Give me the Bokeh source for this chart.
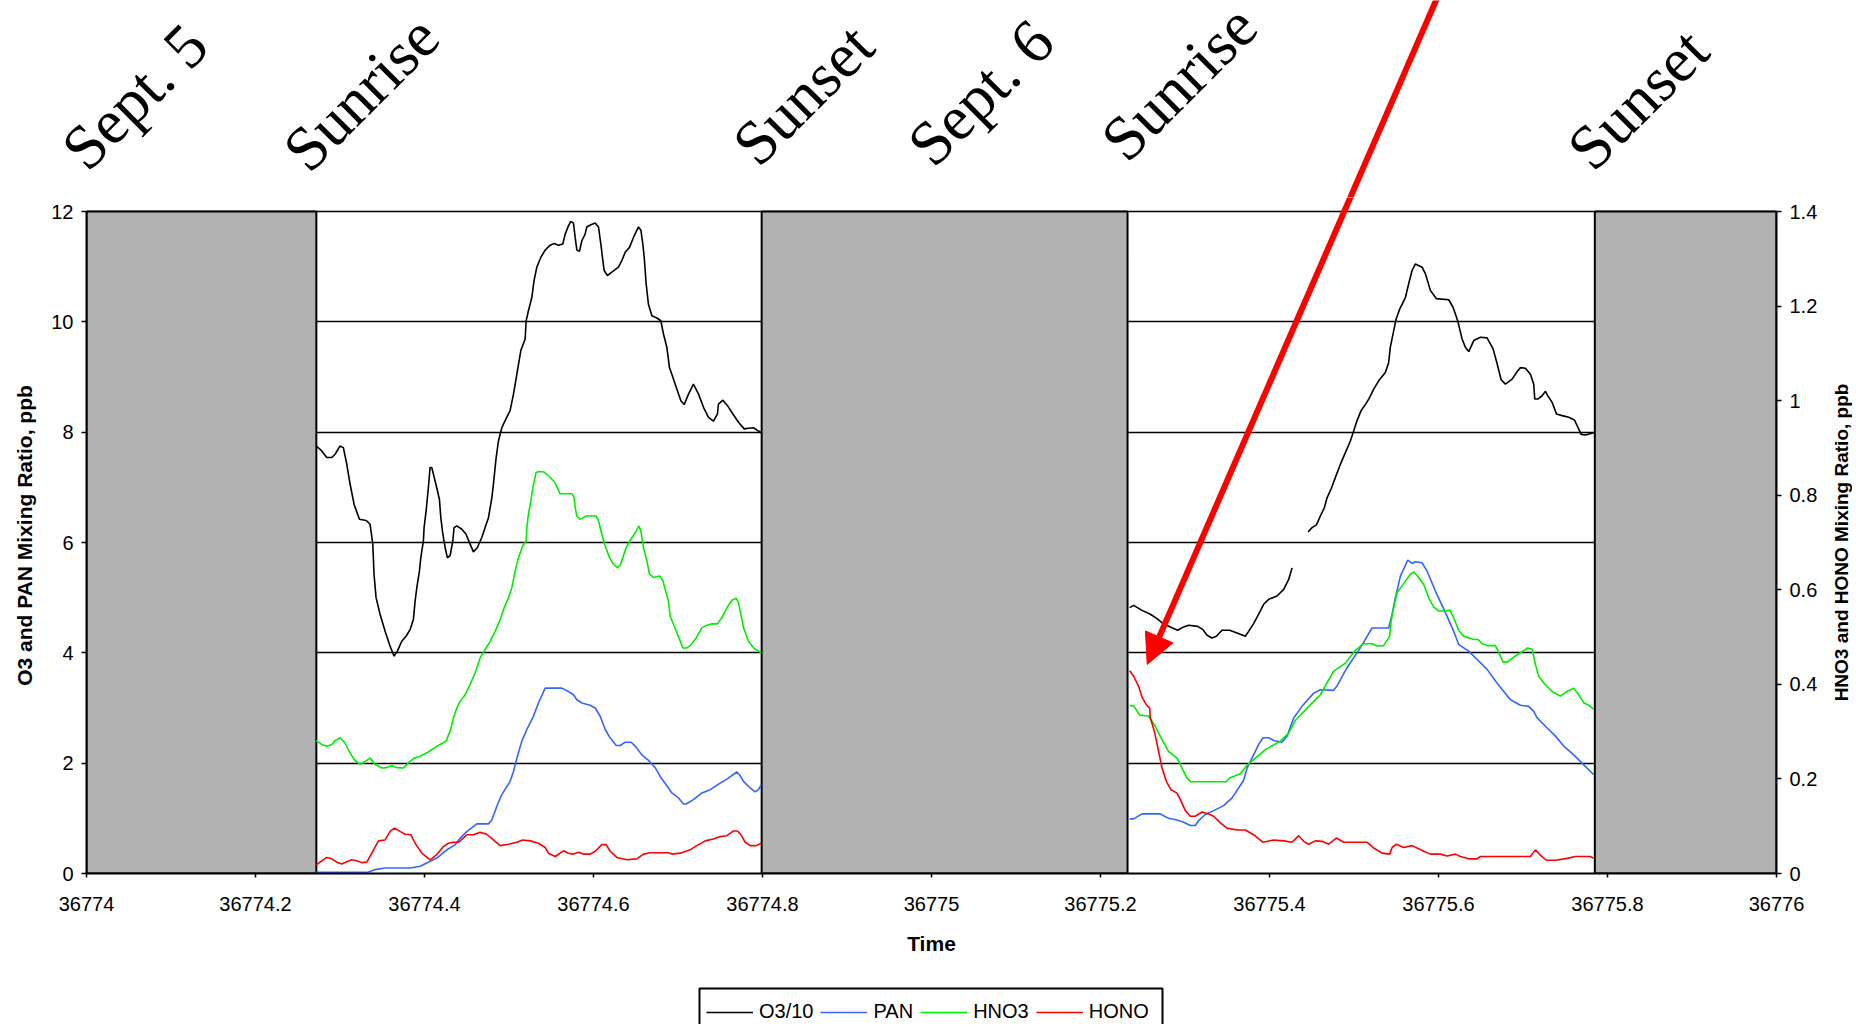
from bokeh.plotting import figure
from bokeh.layouts import column, row
from bokeh.models import (Range1d, LinearAxis, FixedTicker, Legend, LegendItem,
                          Label, Arrow, NormalHead)
from bokeh.embed import file_html
from bokeh.resources import INLINE

# ---------------- data ----------------
# O3/10 (left axis, ppb/10)
o3_sep5_time = [36774.2717, 36774.2784, 36774.2843, 36774.2903, 36774.2942, 36774.3001, 36774.3040, 36774.3080,
                36774.3119, 36774.3167, 36774.3230, 36774.3309, 36774.3356, 36774.3388, 36774.3403, 36774.3427,
                36774.3474, 36774.3534, 36774.3593, 36774.3640, 36774.3679, 36774.3731, 36774.3782, 36774.3829,
                36774.3869, 36774.3889, 36774.3909, 36774.3940, 36774.3956, 36774.3987, 36774.3995, 36774.4019,
                36774.4046, 36774.4066, 36774.4086, 36774.4125, 36774.4177, 36774.4193, 36774.4217, 36774.4244,
                36774.4271, 36774.4303, 36774.4335, 36774.4350, 36774.4382, 36774.4442, 36774.4492, 36774.4540,
                36774.4579, 36774.4626, 36774.4678, 36774.4717, 36774.4757, 36774.4797, 36774.4816, 36774.4848,
                36774.4875, 36774.4915, 36774.4954, 36774.5013, 36774.5053, 36774.5093, 36774.5140, 36774.5191,
                36774.5203, 36774.5230, 36774.5270, 36774.5297, 36774.5329, 36774.5377, 36774.5428, 36774.5487,
                36774.5534, 36774.5585, 36774.5637, 36774.5665, 36774.5703, 36774.5732, 36774.5763, 36774.5783,
                36774.5803, 36774.5834, 36774.5862, 36774.5901, 36774.5921, 36774.5969, 36774.6020, 36774.6059,
                36774.6087, 36774.6111, 36774.6126, 36774.6165, 36774.6217, 36774.6295, 36774.6335, 36774.6375,
                36774.6426, 36774.6473, 36774.6532, 36774.6561, 36774.6584, 36774.6600, 36774.6623, 36774.6650,
                36774.6691, 36774.6750, 36774.6797, 36774.6828, 36774.6868, 36774.6899, 36774.6927, 36774.6987,
                36774.7034, 36774.7073, 36774.7124, 36774.7183, 36774.7243, 36774.7302, 36774.7361, 36774.7420,
                36774.7467, 36774.7479, 36774.7531, 36774.7586, 36774.7650, 36774.7716, 36774.7783, 36774.7834,
                36774.7893, 36774.7953, 36774.7993]
o3_sep5 = [7.75, 7.66, 7.54, 7.54, 7.60, 7.75, 7.72, 7.42,
           7.06, 6.69, 6.42, 6.40, 6.33, 5.97, 5.42, 5.00,
           4.70, 4.39, 4.12, 3.94, 4.03, 4.21, 4.30, 4.42,
           4.61, 4.94, 5.18, 5.48, 5.72, 6.03, 6.27, 6.57,
           7.00, 7.36, 7.36, 7.12, 6.78, 6.45, 6.15, 5.91,
           5.72, 5.76, 6.03, 6.27, 6.30, 6.24, 6.15, 5.97,
           5.83, 5.91, 6.09, 6.27, 6.45, 6.81, 7.06, 7.54,
           7.84, 8.08, 8.21, 8.39, 8.69, 9.05, 9.48, 9.69,
           10.02, 10.20, 10.44, 10.75, 10.99, 11.17, 11.30, 11.39,
           11.42, 11.39, 11.41, 11.59, 11.74, 11.82, 11.79, 11.53,
           11.30, 11.28, 11.47, 11.59, 11.72, 11.76, 11.79, 11.72,
           11.41, 11.11, 10.93, 10.84, 10.90, 10.99, 11.11, 11.26,
           11.35, 11.53, 11.72, 11.66, 11.41, 11.17, 10.69, 10.32,
           10.11, 10.07, 10.02, 9.78, 9.54, 9.17, 9.05, 8.78,
           8.57, 8.50, 8.69, 8.87, 8.69, 8.45, 8.27, 8.20,
           8.33, 8.51, 8.58, 8.48, 8.33, 8.18, 8.06, 8.07,
           8.08, 8.02, 7.99]

o3_sep6a_time = [36775.2345, 36775.2392, 36775.2491, 36775.2590, 36775.2669, 36775.2740, 36775.2826, 36775.2913,
                 36775.2984, 36775.3043, 36775.3150, 36775.3213, 36775.3261, 36775.3320, 36775.3371, 36775.3438,
                 36775.3528, 36775.3616, 36775.3714, 36775.3753, 36775.3812, 36775.3872, 36775.3931, 36775.3990,
                 36775.4089, 36775.4168, 36775.4227, 36775.4267]
o3_sep6a = [4.82, 4.86, 4.77, 4.70, 4.62, 4.53, 4.47, 4.41,
            4.47, 4.50, 4.48, 4.42, 4.32, 4.27, 4.30, 4.41,
            4.41, 4.36, 4.30, 4.39, 4.53, 4.70, 4.88, 4.97,
            5.03, 5.15, 5.33, 5.54]

o3_sep6b_time = [36775.4456, 36775.4504, 36775.4555, 36775.4602, 36775.4649, 36775.4681, 36775.4729, 36775.4780,
                 36775.4839, 36775.4898, 36775.4957, 36775.4996, 36775.5036, 36775.5084, 36775.5135, 36775.5186,
                 36775.5233, 36775.5292, 36775.5371, 36775.5410, 36775.5430, 36775.5470, 36775.5502, 36775.5541,
                 36775.5608, 36775.5647, 36775.5687, 36775.5726, 36775.5806, 36775.5845, 36775.5904, 36775.5975,
                 36775.6121, 36775.6173, 36775.6227, 36775.6279, 36775.6318, 36775.6358, 36775.6417, 36775.6496,
                 36775.6575, 36775.6646, 36775.6694, 36775.6741, 36775.6792, 36775.6871, 36775.6922, 36775.6970,
                 36775.7029, 36775.7088, 36775.7127, 36775.7139, 36775.7175, 36775.7226, 36775.7266, 36775.7293,
                 36775.7345, 36775.7396, 36775.7463, 36775.7541, 36775.7609, 36775.7671, 36775.7688, 36775.7739,
                 36775.7837]
o3_sep6b = [6.19, 6.27, 6.32, 6.48, 6.63, 6.81, 6.97, 7.18,
            7.42, 7.63, 7.84, 8.02, 8.21, 8.39, 8.50, 8.63,
            8.78, 8.93, 9.08, 9.26, 9.54, 9.84, 10.07, 10.23,
            10.44, 10.69, 10.93, 11.05, 10.99, 10.87, 10.57, 10.42,
            10.40, 10.26, 10.02, 9.69, 9.54, 9.46, 9.66, 9.72,
            9.71, 9.51, 9.24, 8.95, 8.87, 8.96, 9.08, 9.17,
            9.16, 9.05, 8.87, 8.60, 8.60, 8.66, 8.74, 8.66,
            8.54, 8.33, 8.30, 8.27, 8.22, 8.02, 7.96, 7.95,
            7.99]

# PAN (left axis, ppb)
pan_sep5_time = [36774.2717, 36774.3317, 36774.3415, 36774.3534, 36774.3829, 36774.3948, 36774.4027, 36774.4146,
                 36774.4264, 36774.4362, 36774.4421, 36774.4501, 36774.4619, 36774.4757, 36774.4797, 36774.4856,
                 36774.4915, 36774.5013, 36774.5053, 36774.5093, 36774.5152, 36774.5211, 36774.5289, 36774.5348,
                 36774.5428, 36774.5625, 36774.5703, 36774.5763, 36774.5803, 36774.5862, 36774.5960, 36774.6020,
                 36774.6079, 36774.6138, 36774.6197, 36774.6268, 36774.6316, 36774.6375, 36774.6446, 36774.6493,
                 36774.6572, 36774.6651, 36774.6730, 36774.6789, 36774.6860, 36774.6927, 36774.7006, 36774.7065,
                 36774.7097, 36774.7183, 36774.7283, 36774.7381, 36774.7479, 36774.7579, 36774.7650, 36774.7697,
                 36774.7728, 36774.7775, 36774.7854, 36774.7913, 36774.7953, 36774.7985]
pan_sep5 = [0.02, 0.02, 0.07, 0.10, 0.10, 0.13, 0.19, 0.28,
            0.43, 0.52, 0.64, 0.76, 0.90, 0.90, 0.97, 1.22,
            1.43, 1.67, 1.85, 2.09, 2.40, 2.61, 2.85, 3.09,
            3.36, 3.36, 3.30, 3.24, 3.15, 3.09, 3.05, 3.00,
            2.85, 2.61, 2.46, 2.32, 2.32, 2.38, 2.38, 2.31,
            2.15, 2.05, 1.92, 1.76, 1.61, 1.46, 1.37, 1.26,
            1.26, 1.34, 1.46, 1.52, 1.62, 1.71, 1.79, 1.84,
            1.79, 1.67, 1.55, 1.48, 1.52, 1.61]

pan_sep6_time = [36775.2345, 36775.2392, 36775.2491, 36775.2708, 36775.2806, 36775.2906, 36775.2984, 36775.3063,
                 36775.3122, 36775.3161, 36775.3241, 36775.3339, 36775.3457, 36775.3557, 36775.3635, 36775.3694,
                 36775.3734, 36775.3812, 36775.3872, 36775.3924, 36775.3990, 36775.4049, 36775.4148, 36775.4208,
                 36775.4286, 36775.4385, 36775.4523, 36775.4602, 36775.4759, 36775.4799, 36775.4918, 36775.5075,
                 36775.5214, 36775.5411, 36775.5451, 36775.5490, 36775.5549, 36775.5636, 36775.5687, 36775.5726,
                 36775.5806, 36775.5865, 36775.5963, 36775.6082, 36775.6180, 36775.6239, 36775.6358, 36775.6457,
                 36775.6575, 36775.6694, 36775.6851, 36775.6970, 36775.7068, 36775.7127, 36775.7167, 36775.7265,
                 36775.7384, 36775.7482, 36775.7600, 36775.7719, 36775.7837]
pan_sep6 = [0.99, 0.99, 1.08, 1.08, 1.00, 0.97, 0.93, 0.87,
            0.87, 0.96, 1.07, 1.14, 1.23, 1.37, 1.55, 1.69,
            1.91, 2.15, 2.34, 2.46, 2.46, 2.41, 2.38, 2.49,
            2.82, 3.03, 3.27, 3.33, 3.32, 3.40, 3.73, 4.09,
            4.45, 4.45, 4.70, 5.00, 5.39, 5.68, 5.62, 5.65,
            5.63, 5.48, 5.12, 4.73, 4.39, 4.15, 4.03, 3.88,
            3.70, 3.45, 3.15, 3.05, 3.03, 2.94, 2.82, 2.67,
            2.49, 2.31, 2.15, 1.97, 1.79]

# HNO3 (right axis, ppb)
hno3_sep5_time = [36774.2717, 36774.2784, 36774.2843, 36774.2903, 36774.2942, 36774.3001, 36774.3060, 36774.3119,
                  36774.3178, 36774.3238, 36774.3297, 36774.3356, 36774.3415, 36774.3494, 36774.3554, 36774.3613,
                  36774.3672, 36774.3751, 36774.3809, 36774.3869, 36774.3948, 36774.4046, 36774.4146, 36774.4256,
                  36774.4303, 36774.4342, 36774.4382, 36774.4421, 36774.4481, 36774.4540, 36774.4599, 36774.4658,
                  36774.4717, 36774.4777, 36774.4836, 36774.4895, 36774.4942, 36774.4993, 36774.5033, 36774.5073,
                  36774.5112, 36774.5163, 36774.5203, 36774.5211, 36774.5230, 36774.5258, 36774.5289, 36774.5321,
                  36774.5360, 36774.5416, 36774.5479, 36774.5534, 36774.5566, 36774.5605, 36774.5744, 36774.5771,
                  36774.5783, 36774.5803, 36774.5842, 36774.5913, 36774.6031, 36774.6059, 36774.6099, 36774.6138,
                  36774.6189, 36774.6236, 36774.6284, 36774.6316, 36774.6347, 36774.6386, 36774.6454, 36774.6505,
                  36774.6537, 36774.6561, 36774.6591, 36774.6632, 36774.6662, 36774.6710, 36774.6781, 36774.6821,
                  36774.6848, 36774.6887, 36774.6907, 36774.6946, 36774.6994, 36774.7058, 36774.7105, 36774.7152,
                  36774.7215, 36774.7283, 36774.7342, 36774.7401, 36774.7467, 36774.7519, 36774.7579, 36774.7638,
                  36774.7689, 36774.7716, 36774.7744, 36774.7775, 36774.7834, 36774.7902, 36774.7981]
hno3_sep5 = [0.281, 0.273, 0.269, 0.273, 0.281, 0.287, 0.276, 0.255,
             0.239, 0.231, 0.237, 0.244, 0.231, 0.223, 0.224, 0.228,
             0.224, 0.223, 0.234, 0.243, 0.248, 0.257, 0.269, 0.280,
             0.301, 0.329, 0.350, 0.364, 0.378, 0.400, 0.424, 0.456,
             0.474, 0.491, 0.512, 0.537, 0.562, 0.583, 0.604, 0.640,
             0.668, 0.693, 0.703, 0.731, 0.760, 0.788, 0.823, 0.848,
             0.850, 0.849, 0.839, 0.829, 0.818, 0.803, 0.803, 0.795,
             0.774, 0.756, 0.749, 0.756, 0.756, 0.746, 0.717, 0.693,
             0.668, 0.654, 0.647, 0.652, 0.668, 0.689, 0.710, 0.724,
             0.735, 0.724, 0.689, 0.661, 0.633, 0.626, 0.629, 0.619,
             0.601, 0.576, 0.544, 0.527, 0.506, 0.477, 0.477, 0.483,
             0.498, 0.520, 0.525, 0.528, 0.528, 0.541, 0.562, 0.578,
             0.582, 0.573, 0.548, 0.520, 0.491, 0.476, 0.467]

hno3_sep6_time = [36775.2345, 36775.2392, 36775.2463, 36775.2569, 36775.2649, 36775.2728, 36775.2806, 36775.2906,
                  36775.2965, 36775.3024, 36775.3071, 36775.3489, 36775.3528, 36775.3655, 36775.3734, 36775.3812,
                  36775.3951, 36775.4128, 36775.4227, 36775.4306, 36775.4523, 36775.4602, 36775.4759, 36775.4898,
                  36775.5016, 36775.5115, 36775.5214, 36775.5273, 36775.5351, 36775.5422, 36775.5439, 36775.5470,
                  36775.5510, 36775.5588, 36775.5667, 36775.5707, 36775.5766, 36775.5825, 36775.5884, 36775.5943,
                  36775.6002, 36775.6082, 36775.6133, 36775.6180, 36775.6239, 36775.6298, 36775.6417, 36775.6464,
                  36775.6516, 36775.6575, 36775.6674, 36775.6713, 36775.6765, 36775.6812, 36775.6910, 36775.6989,
                  36775.7056, 36775.7108, 36775.7147, 36775.7186, 36775.7245, 36775.7345, 36775.7443, 36775.7522,
                  36775.7600, 36775.7659, 36775.7719, 36775.7778, 36775.7837]
hno3_sep6 = [0.355, 0.355, 0.335, 0.333, 0.311, 0.283, 0.258, 0.244,
             0.223, 0.201, 0.194, 0.194, 0.202, 0.211, 0.229, 0.241,
             0.262, 0.280, 0.297, 0.324, 0.364, 0.378, 0.428, 0.445,
             0.472, 0.486, 0.486, 0.481, 0.482, 0.502, 0.534, 0.562,
             0.594, 0.613, 0.633, 0.638, 0.626, 0.611, 0.583, 0.564,
             0.555, 0.555, 0.557, 0.541, 0.514, 0.502, 0.495, 0.495,
             0.486, 0.482, 0.482, 0.467, 0.447, 0.447, 0.460, 0.469,
             0.477, 0.474, 0.442, 0.417, 0.403, 0.385, 0.375, 0.385,
             0.392, 0.378, 0.361, 0.356, 0.347]

# HONO (right axis, ppb)
hono_sep5_time = [36774.2717, 36774.2772, 36774.2843, 36774.2903, 36774.2962, 36774.3021, 36774.3080, 36774.3139,
                  36774.3199, 36774.3258, 36774.3317, 36774.3376, 36774.3455, 36774.3534, 36774.3593, 36774.3644,
                  36774.3711, 36774.3770, 36774.3838, 36774.3889, 36774.3968, 36774.4066, 36774.4146, 36774.4224,
                  36774.4283, 36774.4342, 36774.4401, 36774.4501, 36774.4579, 36774.4658, 36774.4737, 36774.4816,
                  36774.4895, 36774.4993, 36774.5093, 36774.5163, 36774.5250, 36774.5348, 36774.5428, 36774.5467,
                  36774.5546, 36774.5644, 36774.5703, 36774.5763, 36774.5822, 36774.5881, 36774.5960, 36774.6020,
                  36774.6099, 36774.6150, 36774.6197, 36774.6276, 36774.6394, 36774.6513, 36774.6591, 36774.6671,
                  36774.6887, 36774.6927, 36774.7026, 36774.7144, 36774.7223, 36774.7322, 36774.7420, 36774.7499,
                  36774.7579, 36774.7657, 36774.7704, 36774.7744, 36774.7795, 36774.7854, 36774.7925, 36774.7985]
hono_sep5 = [0.018, 0.025, 0.034, 0.031, 0.024, 0.020, 0.025, 0.029,
             0.027, 0.023, 0.024, 0.043, 0.069, 0.071, 0.089, 0.096,
             0.089, 0.083, 0.082, 0.064, 0.043, 0.029, 0.040, 0.057,
             0.064, 0.066, 0.066, 0.082, 0.082, 0.087, 0.083, 0.071,
             0.059, 0.062, 0.066, 0.071, 0.069, 0.064, 0.055, 0.043,
             0.036, 0.048, 0.043, 0.041, 0.045, 0.041, 0.041, 0.047,
             0.061, 0.061, 0.047, 0.034, 0.029, 0.031, 0.041, 0.044,
             0.044, 0.041, 0.043, 0.050, 0.059, 0.069, 0.073, 0.078,
             0.080, 0.090, 0.090, 0.082, 0.066, 0.059, 0.059, 0.064]

hono_sep6_time = [36775.2345, 36775.2392, 36775.2451, 36775.2491, 36775.2542, 36775.2581, 36775.2590, 36775.2637,
                  36775.2688, 36775.2728, 36775.2779, 36775.2835, 36775.2906, 36775.2953, 36775.3004, 36775.3063,
                  36775.3122, 36775.3201, 36775.3280, 36775.3339, 36775.3418, 36775.3497, 36775.3616, 36775.3714,
                  36775.3812, 36775.3924, 36775.4049, 36775.4168, 36775.4267, 36775.4345, 36775.4404, 36775.4463,
                  36775.4543, 36775.4622, 36775.4700, 36775.4791, 36775.4878, 36775.5155, 36775.5233, 36775.5332,
                  36775.5422, 36775.5451, 36775.5502, 36775.5588, 36775.5687, 36775.5825, 36775.5904, 36775.6022,
                  36775.6101, 36775.6200, 36775.6259, 36775.6358, 36775.6457, 36775.6496, 36775.7088, 36775.7147,
                  36775.7198, 36775.7277, 36775.7384, 36775.7522, 36775.7620, 36775.7798, 36775.7837]
hono_sep6 = [0.429, 0.417, 0.396, 0.373, 0.357, 0.350, 0.329, 0.301,
             0.258, 0.223, 0.195, 0.177, 0.170, 0.153, 0.133, 0.121,
             0.121, 0.130, 0.126, 0.121, 0.107, 0.096, 0.092, 0.092,
             0.082, 0.066, 0.071, 0.069, 0.066, 0.080, 0.068, 0.062,
             0.069, 0.068, 0.062, 0.075, 0.066, 0.066, 0.054, 0.043,
             0.041, 0.055, 0.062, 0.055, 0.059, 0.047, 0.041, 0.041,
             0.037, 0.041, 0.036, 0.031, 0.031, 0.036, 0.036, 0.050,
             0.040, 0.028, 0.028, 0.032, 0.036, 0.036, 0.032]

# night periods (shaded)
night_start = [36774.0, 36774.799, 36775.785]
night_end = [36774.272, 36775.232, 36776.0]

# ticks / labels
x_ticks = [36774.0, 36774.2, 36774.4, 36774.6, 36774.8, 36775.0, 36775.2, 36775.4, 36775.6, 36775.8, 36776.0]
x_tick_labels = ["36774", "36774.2", "36774.4", "36774.6", "36774.8", "36775", "36775.2", "36775.4",
                 "36775.6", "36775.8", "36776"]
left_ticks = [0, 2, 4, 6, 8, 10, 12]
left_tick_labels = ["0", "2", "4", "6", "8", "10", "12"]
right_ticks = [0.0, 0.2, 0.4, 0.6, 0.8, 1.0, 1.2, 1.4]
right_tick_labels = ["0", "0.2", "0.4", "0.6", "0.8", "1", "1.2", "1.4"]

top_labels = ["Sept. 5", "Sunrise", "Sunset", "Sept. 6", "Sunrise", "Sunset"]
top_label_x = [36773.984, 36774.246, 36774.778, 36774.985, 36775.214, 36775.766]
top_label_y = [12.96, 12.93, 13.04, 13.03, 13.12, 12.96]

series_names = ["O3/10", "PAN", "HNO3", "HONO"]

# ---------------- geometry ----------------
FONT = "Liberation Sans"
W = 1852                           # whole page width used
LEFT_B = 86                        # main frame spans x 86..1776
FRAME_W = 1690
RIGHT_STRIP = 24                   # strip holding the right axis title
MAIN_W = W - RIGHT_STRIP
RIGHT_B = MAIN_W - LEFT_B - FRAME_W
PX_PER_UNIT = 662 / 12.0           # y=12 at 211 px, y=0 at 873 px
TOP_PAD = 14                       # main frame reaches 14 px above y=12
Y_MAIN_TOP = 12 + TOP_PAD / PX_PER_UNIT
TOP_H = 211 - TOP_PAD
MAIN_BOTTOM_B = 100
MAIN_H = 662 + TOP_PAD + MAIN_BOTTOM_B
BOT_H = 1024 - TOP_H - MAIN_H
X_PER_PX = 2.0 / FRAME_W
X_LEFT_FULL = 36774 - LEFT_B * X_PER_PX
X_RIGHT_FULL = 36774 + (W - LEFT_B) * X_PER_PX

LW = 1.6
C_O3, C_PAN, C_HNO3, C_HONO = "black", "#3366ff", "#00ee00", "#ff0000"


def red_arrow():
    return Arrow(end=NormalHead(size=30, fill_color="red", line_color="red"),
                 x_start=36775.602, y_start=16.0, x_end=36775.2553, y_end=3.79,
                 line_color="red", line_width=6)


def bare(fig):
    fig.frame_align = False
    fig.grid.visible = False
    fig.outline_line_color = None
    return fig


# ---------------- top strip (rotated labels) ----------------
top = bare(figure(width=W, height=TOP_H, x_range=Range1d(X_LEFT_FULL, X_RIGHT_FULL),
                  y_range=Range1d(Y_MAIN_TOP, Y_MAIN_TOP + TOP_H / PX_PER_UNIT),
                  x_axis_type=None, y_axis_type=None, output_backend="svg",
                  toolbar_location=None, title=None, min_border=0))
for txt, lx, ly in zip(top_labels, top_label_x, top_label_y):
    top.add_layout(Label(x=lx, y=ly, text=txt, angle=45, angle_units="deg",
                         text_font="Liberation Serif", text_font_size="63px",
                         text_color="black", text_align="left", text_baseline="alphabetic"))
top.add_layout(red_arrow())

# ---------------- main chart ----------------
p = figure(width=MAIN_W, height=MAIN_H, x_range=Range1d(36774, 36776), y_range=Range1d(0, Y_MAIN_TOP),
           output_backend="svg", toolbar_location=None, title=None,
           min_border_left=LEFT_B, min_border_right=RIGHT_B, min_border_top=0,
           min_border_bottom=MAIN_BOTTOM_B)
p.frame_align = False
p.extra_y_ranges = {"right": Range1d(0, Y_MAIN_TOP * 1.4 / 12.0)}
p.outline_line_color = None
p.background_fill_color = "white"
p.border_fill_color = "white"

yax = p.yaxis[0]
yax.ticker = FixedTicker(ticks=left_ticks)
yax.major_label_overrides = dict(zip(left_ticks, left_tick_labels))
yax.bounds = (0, 12)
yax.axis_label = "O3 and PAN Mixing Ratio, ppb"

xax = p.xaxis[0]
xax.ticker = FixedTicker(ticks=x_ticks)
xax.major_label_overrides = dict(zip(x_ticks, x_tick_labels))
xax.axis_label = "Time"

rax = LinearAxis(y_range_name="right", ticker=FixedTicker(ticks=right_ticks))
rax.major_label_overrides = dict(zip(right_ticks, right_tick_labels))
rax.bounds = (0, 1.4)
p.add_layout(rax, "right")

for ax in (yax, xax, rax):
    ax.axis_line_color = "black"
    ax.axis_line_width = 2
    ax.major_tick_line_color = "black"
    ax.major_tick_line_width = 1.5
    ax.major_tick_in = 0
    ax.major_tick_out = 5
    ax.minor_tick_line_color = None
    ax.major_label_text_font = FONT
    ax.major_label_text_font_size = "20px"
    ax.major_label_text_color = "black"
    ax.axis_label_text_font = FONT
    ax.axis_label_text_font_size = "21px"
    ax.axis_label_text_font_style = "bold"
    ax.axis_label_text_color = "black"
yax.major_label_standoff = 8
yax.axis_label_standoff = 12
rax.major_label_standoff = 8
xax.major_tick_out = 4
xax.major_label_standoff = 19
xax.axis_label_standoff = 18

p.xgrid.visible = False
p.ygrid.grid_line_color = "black"
p.ygrid.grid_line_width = 1.6

p.quad(left=night_start, right=night_end, bottom=0, top=12,
       fill_color="#b2b2b2", line_color="black", line_width=2)

for xs, ys in ((o3_sep5_time, o3_sep5), (o3_sep6a_time, o3_sep6a), (o3_sep6b_time, o3_sep6b)):
    p.line(xs, ys, color=C_O3, line_width=LW)
for xs, ys in ((pan_sep5_time, pan_sep5), (pan_sep6_time, pan_sep6)):
    p.line(xs, ys, color=C_PAN, line_width=LW)
for xs, ys in ((hno3_sep5_time, hno3_sep5), (hno3_sep6_time, hno3_sep6)):
    p.line(xs, ys, color=C_HNO3, line_width=LW, y_range_name="right")
for xs, ys in ((hono_sep5_time, hono_sep5), (hono_sep6_time, hono_sep6)):
    p.line(xs, ys, color=C_HONO, line_width=LW, y_range_name="right")

p.add_layout(red_arrow())

# ---------------- right strip (right axis title, reads bottom-to-top) ----------------
rs = bare(figure(width=RIGHT_STRIP, height=MAIN_H, x_range=Range1d(0, RIGHT_STRIP),
                 y_range=Range1d(0, MAIN_H), x_axis_type=None, y_axis_type=None,
                 output_backend="svg", toolbar_location=None, title=None, min_border=0))
rs.add_layout(Label(x=RIGHT_STRIP / 2 + 1, y=MAIN_H - (542 - TOP_H), text="HNO3 and HONO Mixing Ratio, ppb",
                    angle=90, angle_units="deg", text_align="center", text_baseline="middle",
                    text_font=FONT, text_font_size="19px", text_font_style="bold", text_color="black"))

# ---------------- bottom strip (legend) ----------------
bot = bare(figure(width=W, height=BOT_H, x_range=Range1d(0, W), y_range=Range1d(0, BOT_H),
                  x_axis_type=None, y_axis_type=None, output_backend="svg",
                  toolbar_location=None, title=None, min_border=0))
# legend frame (page px 699..1162, top at 988 px)
bot.quad(left=699, right=1162, top=1024 - 988, bottom=-10,
         fill_color="white", line_color="black", line_width=2)
keys = [bot.line([-20, -10], [-20, -20], color=c, line_width=LW)
        for c in (C_O3, C_PAN, C_HNO3, C_HONO)]
legend = Legend(items=[LegendItem(label=n, renderers=[k]) for n, k in zip(series_names, keys)],
                orientation="horizontal", location=(706, BOT_H - 50),
                border_line_color=None, background_fill_alpha=0,
                label_text_font=FONT, label_text_font_size="20px", label_text_color="black",
                glyph_width=47, glyph_height=20, label_standoff=6, spacing=7,
                padding=8, margin=0)
bot.add_layout(legend)

layout = column(top, row(p, rs, spacing=0), bot, spacing=0)
open("out.html", "w").write(file_html(layout, INLINE))
